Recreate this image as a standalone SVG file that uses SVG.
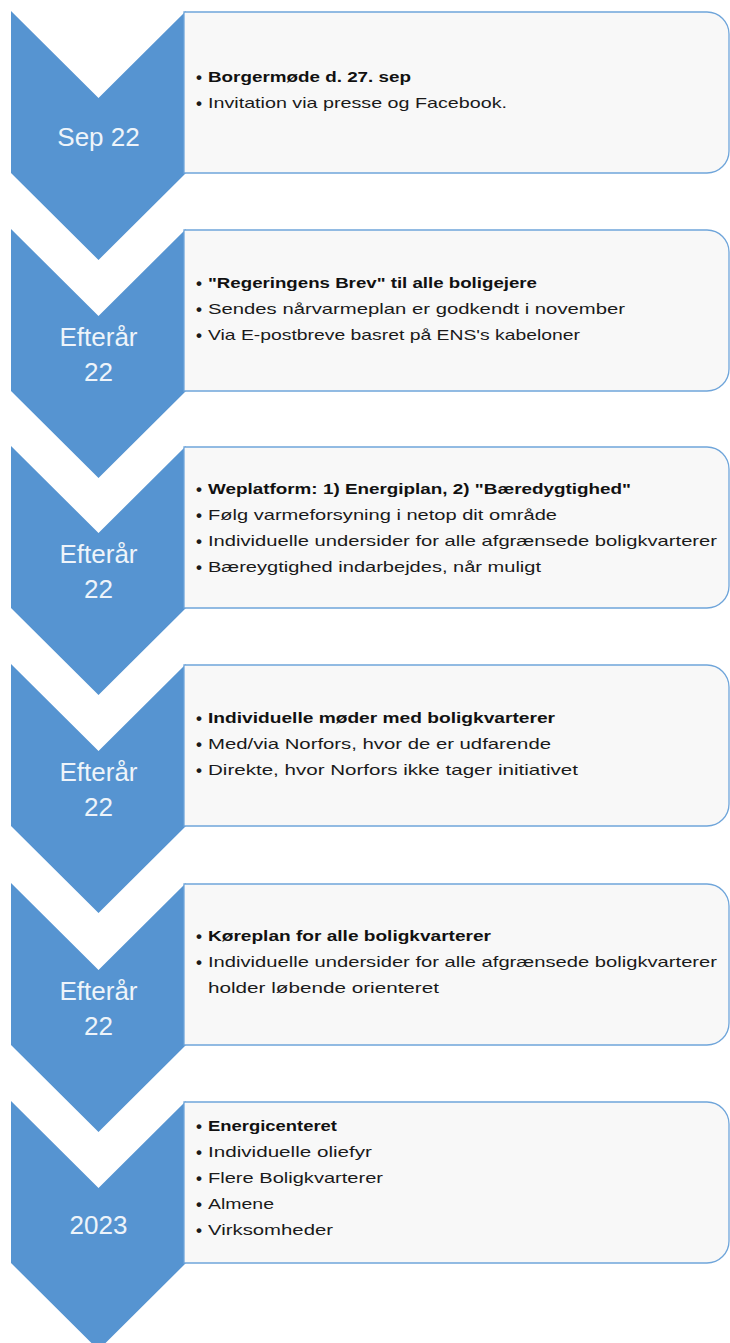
<svg xmlns="http://www.w3.org/2000/svg" width="730" height="1343" viewBox="0 0 730 1343">
<defs>
<style>
.chev{fill:#5694D1;}
.lbl{font-family:"Liberation Sans",Arial,sans-serif;font-size:26px;fill:#EEF4FA;text-anchor:middle;}
.box{fill:#F8F8F8;stroke:#6FA5DA;stroke-width:1.3;}
.t{font-family:"Liberation Sans",Arial,sans-serif;font-size:15px;fill:#1A1A1A;}
.b{font-weight:bold;fill:#111;}
.bul{font-family:"Liberation Sans",Arial,sans-serif;font-size:17px;font-weight:bold;fill:#1A1A1A;}
</style>
<path id="chevShape" d="M11,0 L98.5,87 L186,0 L186,162 L98.5,249 L11,162 Z"/>
<path id="boxShape" d="M184,0 H707 A22,22 0 0 1 729,22 V139 A22,22 0 0 1 707,161 H184 Z"/>
</defs>
<rect width="730" height="1343" fill="#FFFFFF"/>
<g id="connectors"/>

<g id="step1">
<use href="#chevShape" class="chev" y="11"/>
<text class="lbl" x="98.5" y="146">Sep 22</text>
</g>
<g id="box1">
<use href="#boxShape" class="box" y="12"/>
<text class="bul" x="196" y="83">•</text><text class="t b" x="208" y="82" textLength="203" lengthAdjust="spacingAndGlyphs">Borgermøde d. 27. sep</text>
<text class="bul" x="196" y="109">•</text><text class="t" x="208" y="108" textLength="299" lengthAdjust="spacingAndGlyphs">Invitation via presse og Facebook.</text>
</g>

<g id="step2">
<use href="#chevShape" class="chev" y="229"/>
<text class="lbl" x="98.5" y="346">Efterår</text>
<text class="lbl" x="98.5" y="381">22</text>
</g>
<g id="box2">
<use href="#boxShape" class="box" y="230"/>
<text class="bul" x="196" y="289">•</text><text class="t b" x="208" y="288" textLength="329" lengthAdjust="spacingAndGlyphs">"Regeringens Brev" til alle boligejere</text>
<text class="bul" x="196" y="315">•</text><text class="t" x="208" y="314" textLength="417" lengthAdjust="spacingAndGlyphs">Sendes nårvarmeplan er godkendt i november</text>
<text class="bul" x="196" y="341">•</text><text class="t" x="208" y="340" textLength="372" lengthAdjust="spacingAndGlyphs">Via E-postbreve basret på ENS's kabeloner</text>
</g>

<g id="step3">
<use href="#chevShape" class="chev" y="446"/>
<text class="lbl" x="98.5" y="563">Efterår</text>
<text class="lbl" x="98.5" y="598">22</text>
</g>
<g id="box3">
<use href="#boxShape" class="box" y="447"/>
<text class="bul" x="196" y="495">•</text><text class="t b" x="208" y="494" textLength="423" lengthAdjust="spacingAndGlyphs">Weplatform: 1) Energiplan, 2) "Bæredygtighed"</text>
<text class="bul" x="196" y="521">•</text><text class="t" x="208" y="520" textLength="349" lengthAdjust="spacingAndGlyphs">Følg varmeforsyning i netop dit område</text>
<text class="bul" x="196" y="547">•</text><text class="t" x="208" y="546" textLength="509" lengthAdjust="spacingAndGlyphs">Individuelle undersider for alle afgrænsede boligkvarterer</text>
<text class="bul" x="196" y="573">•</text><text class="t" x="208" y="572" textLength="333" lengthAdjust="spacingAndGlyphs">Bæreygtighed indarbejdes, når muligt</text>
</g>

<g id="step4">
<use href="#chevShape" class="chev" y="664"/>
<text class="lbl" x="98.5" y="781">Efterår</text>
<text class="lbl" x="98.5" y="816">22</text>
</g>
<g id="box4">
<use href="#boxShape" class="box" y="665"/>
<text class="bul" x="196" y="724">•</text><text class="t b" x="208" y="723" textLength="347" lengthAdjust="spacingAndGlyphs">Individuelle møder med boligkvarterer</text>
<text class="bul" x="196" y="750">•</text><text class="t" x="208" y="749" textLength="343" lengthAdjust="spacingAndGlyphs">Med/via Norfors, hvor de er udfarende</text>
<text class="bul" x="196" y="776">•</text><text class="t" x="208" y="775" textLength="370" lengthAdjust="spacingAndGlyphs">Direkte, hvor Norfors ikke tager initiativet</text>
</g>

<g id="step5">
<use href="#chevShape" class="chev" y="883"/>
<text class="lbl" x="98.5" y="1000">Efterår</text>
<text class="lbl" x="98.5" y="1035">22</text>
</g>
<g id="box5">
<use href="#boxShape" class="box" y="884"/>
<text class="bul" x="196" y="942">•</text><text class="t b" x="208" y="941" textLength="283" lengthAdjust="spacingAndGlyphs">Køreplan for alle boligkvarterer</text>
<text class="bul" x="196" y="968">•</text><text class="t" x="208" y="967" textLength="509" lengthAdjust="spacingAndGlyphs">Individuelle undersider for alle afgrænsede boligkvarterer</text>
<text class="t" x="208" y="993" textLength="231" lengthAdjust="spacingAndGlyphs">holder løbende orienteret</text>
</g>

<g id="step6">
<use href="#chevShape" class="chev" y="1101"/>
<text class="lbl" x="98.5" y="1234">2023</text>
</g>
<g id="box6">
<use href="#boxShape" class="box" y="1102"/>
<text class="bul" x="196" y="1132">•</text><text class="t b" x="208" y="1131" textLength="129" lengthAdjust="spacingAndGlyphs">Energicenteret</text>
<text class="bul" x="196" y="1158">•</text><text class="t" x="208" y="1157" textLength="164" lengthAdjust="spacingAndGlyphs">Individuelle oliefyr</text>
<text class="bul" x="196" y="1184">•</text><text class="t" x="208" y="1183" textLength="175" lengthAdjust="spacingAndGlyphs">Flere Boligkvarterer</text>
<text class="bul" x="196" y="1210">•</text><text class="t" x="208" y="1209" textLength="66" lengthAdjust="spacingAndGlyphs">Almene</text>
<text class="bul" x="196" y="1236">•</text><text class="t" x="208" y="1235" textLength="125" lengthAdjust="spacingAndGlyphs">Virksomheder</text>
</g>
</svg>
